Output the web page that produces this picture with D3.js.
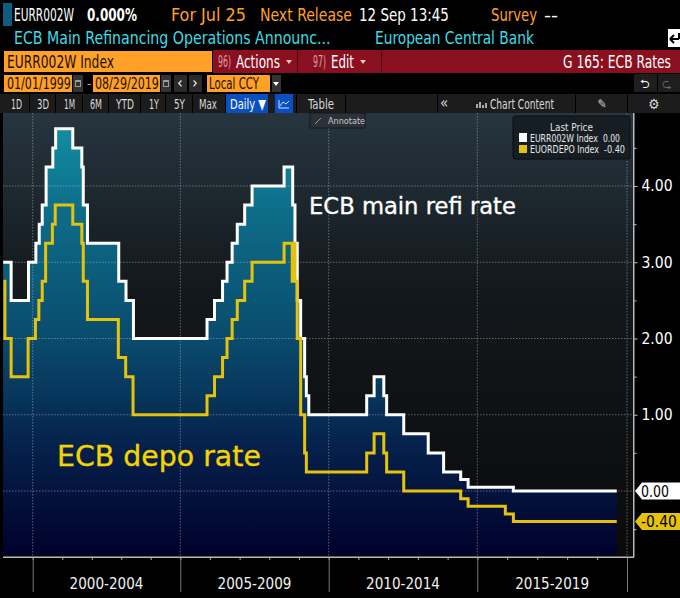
<!DOCTYPE html>
<html>
<head>
<meta charset="utf-8">
<script src="https://cdn.jsdelivr.net/npm/d3@7"></script>
<style>
  html, body { margin: 0; padding: 0; background: #000; }
  svg { display: block; }
  text { font-family: "DejaVu Sans Condensed", "DejaVu Sans", sans-serif; }
</style>
</head>
<body>
<svg id="chart" width="680" height="598"></svg>
<script>
// ECB main refinancing rate, steps
const refiDates = ['1999-01-01', '1999-04-09', '1999-11-10', '2000-02-09', '2000-03-22', '2000-04-28', '2000-06-15', '2000-09-06', '2000-10-11', '2001-05-11', '2001-08-31', '2001-09-18', '2001-11-09', '2002-12-01', '2003-03-01', '2003-06-01', '2005-11-26', '2006-02-26', '2006-06-05', '2006-07-30', '2006-10-01', '2006-12-03', '2007-03-04', '2007-06-03', '2008-07-01', '2008-10-15', '2008-11-12', '2008-12-10', '2009-01-21', '2009-03-11', '2009-04-01', '2009-05-01', '2011-04-13', '2011-07-13', '2011-11-09', '2011-12-14', '2012-07-11', '2013-05-08', '2013-11-13', '2014-06-11', '2014-09-10', '2016-03-16', '2019-08-29'];
const refiValues = [3.00, 2.50, 3.00, 3.25, 3.50, 3.75, 4.25, 4.50, 4.75, 4.50, 4.25, 3.75, 3.25, 2.75, 2.50, 2.00, 2.25, 2.50, 2.75, 3.00, 3.25, 3.50, 3.75, 4.00, 4.25, 3.75, 3.25, 2.50, 2.00, 1.50, 1.25, 1.00, 1.25, 1.50, 1.25, 1.00, 0.75, 0.50, 0.25, 0.15, 0.05, 0.00, 0.00];

// ECB deposit facility rate, steps
const depoDates = ['1999-01-04', '1999-01-22', '1999-04-09', '1999-11-05', '2000-02-04', '2000-03-17', '2000-04-28', '2000-06-09', '2000-09-01', '2000-10-06', '2001-05-11', '2001-08-31', '2001-09-18', '2001-11-09', '2002-11-26', '2003-02-25', '2003-05-27', '2005-11-26', '2006-02-26', '2006-06-05', '2006-07-30', '2006-10-01', '2006-12-03', '2007-03-04', '2007-06-03', '2008-07-01', '2008-10-09', '2008-10-15', '2008-11-12', '2008-12-10', '2009-01-21', '2009-03-11', '2009-04-01', '2011-04-13', '2011-07-13', '2011-11-09', '2011-12-14', '2012-07-11', '2014-06-11', '2014-09-10', '2015-12-09', '2016-03-16', '2019-08-29'];
const depoValues = [2.75, 2.00, 1.50, 2.00, 2.25, 2.50, 2.75, 3.25, 3.50, 3.75, 3.50, 3.25, 2.75, 2.25, 1.75, 1.50, 1.00, 1.25, 1.50, 1.75, 2.00, 2.25, 2.50, 2.75, 3.00, 3.25, 2.75, 3.25, 2.75, 2.00, 1.00, 0.50, 0.25, 0.50, 0.75, 0.50, 0.25, 0.00, -0.10, -0.20, -0.30, -0.40, -0.40];

const yGridTicks = [0, 1, 2, 3, 4];
const yMinorTicks = [-0.5, 0.5, 1.5, 2.5, 3.5, 4.5];
const periodYears = [2000, 2005, 2010, 2015, 2020];
const periodLabels = ['2000-2004', '2005-2009', '2010-2014', '2015-2019'];
const rangeTabs = ['1D', '3D', '1M', '6M', 'YTD', '1Y', '5Y', 'Max'];

const WHITE = '#ffffff';
const YELLOW = '#e5c20c';
const ORANGE = '#ffa028';
const CYAN = '#3fdbe6';
const RED = '#8a0f1f';
const INK = '#1a1000';

const svg = d3.select('#chart');
const parse = d3.utcParse('%Y-%m-%d');
const refi = refiDates.map((d, i) => ({ date: parse(d), value: refiValues[i] }));
const depo = depoDates.map((d, i) => ({ date: parse(d), value: depoValues[i] }));

const plot = { left: 3, right: 633.5, top: 113, bottom: 557 };
const yearDate = d => new Date(Date.UTC(d, 0, 1));

// the terminal spaces the axis by trading days, so the 5y bands are not quite equal
const x = d3.scaleUtc()
  .domain(periodYears.map(yearDate))
  .range([32.7, 180.3, 328.7, 477.3, 627]);
const y = d3.scaleLinear()
  .domain([0, 4])
  .range([491, 186]);

const defs = svg.append('defs');
gradient('bgFill', [[0, '#26353f'], [0.4, '#13181c'], [1, '#0a0a0a']]);
gradient('areaFill', [[0, '#128ca2'], [0.2, '#0d6c88'], [0.5, '#0a4a6c'], [0.75, '#05204a'], [1, '#00002a']], y(4.75), plot.bottom);

function gradient (id, stops, y1, y2) {
  const g = defs.append('linearGradient').attr('id', id);
  if (y1 !== undefined) {
    g.attr('gradientUnits', 'userSpaceOnUse')
      .attr('x1', 0).attr('x2', 0).attr('y1', y1).attr('y2', y2);
  } else {
    g.attr('x1', 0).attr('x2', 0).attr('y1', 0).attr('y2', 1);
  }
  stops.forEach(s => g.append('stop').attr('offset', s[0]).attr('stop-color', s[1]));
}

function label (txt, px, py, size, color, opts = {}) {
  const t = svg.append('text')
    .attr('font-size', size)
    .attr('fill', color)
    .attr('font-weight', opts.weight || 'normal')
    .attr('text-anchor', opts.anchor || 'start')
    .style('font-family', opts.family || null)
    .text(txt);
  // terminal font is narrower than anything installed, squeeze to the measured width
  const sx = opts.len ? opts.len / t.node().getComputedTextLength() : 1;
  t.attr('transform', `translate(${px},${py}) scale(${sx},1)`);
  return t;
}

function box (px, py, w, h, color) {
  return svg.append('rect').attr('x', px).attr('y', py).attr('width', w).attr('height', h).attr('fill', color);
}

function caret (px, py, color) {
  svg.append('path').attr('d', `M${px - 3} ${py - 2}H${px + 3}L${px} ${py + 2}Z`).attr('fill', color);
}

drawHeader();
drawPlot();
drawAxes();
drawLegend();

function calendar (px) {
  box(px, 75, 10, 17, '#333');
  box(px + 2, 80, 6, 7, '#999');
  box(px + 3, 82, 4, 4, '#333');
}

function drawHeader () {
  box(3, 3, 9, 23, '#0e5d80');
  label('EURR002W', 14, 21, 17.5, WHITE, { len: 60 });
  label('0.000%', 87, 21, 17.5, WHITE, { weight: 'bold', len: 50 });
  label('For Jul 25', 171, 21, 17.5, ORANGE, { len: 75 });
  label('Next Release', 260, 21, 17.5, ORANGE, { len: 92 });
  label('12 Sep 13:45', 359, 21, 17.5, WHITE, { len: 90 });
  label('Survey', 491, 21, 17.5, ORANGE, { len: 46 });
  label('--', 544, 21, 17.5, WHITE, { len: 14 });
  label('ECB Main Refinancing Operations Announc...', 14, 44, 17.5, CYAN, { len: 317 });
  label('European Central Bank', 375, 44, 17.5, CYAN, { len: 159 });
  box(668, 29, 12, 18, WHITE);
  svg.append('path').attr('d', 'M670 39H679M670 39L674 35M670 39L674 43M679 33V39')
    .attr('fill', 'none').attr('stroke', '#000').attr('stroke-width', 2);

  box(4, 51, 208, 21, ORANGE);
  box(213, 50, 467, 23, RED);
  box(297, 50, 1, 23, '#4a0810');
  box(381, 50, 1, 23, '#4a0810');
  label('EURR002W Index', 7, 68, 17, INK, { len: 107 });
  label('96)', 218, 67, 15, '#d8a0a8', { len: 13 });
  label('Actions', 236, 68, 17, WHITE, { len: 44 });
  caret(289, 62, '#e0c8c8');
  label('97)', 313, 67, 15, '#d8a0a8', { len: 13 });
  label('Edit', 331, 68, 17, WHITE, { len: 23 });
  caret(363, 62, '#e0c8c8');
  label('G 165: ECB Rates', 563, 68, 17, WHITE, { len: 108 });

  box(4, 75, 68, 17, ORANGE);
  label('01/01/1999', 7, 89, 16, INK, { len: 64 });
  calendar(73);
  label('-', 87, 88, 13, ORANGE);
  box(93, 75, 67, 17, ORANGE);
  label('08/29/2019', 95, 89, 16, INK, { len: 64 });
  calendar(161);
  box(174, 75, 13, 17, '#2a2a2a');
  label('‹', 180, 88, 15, WHITE, { anchor: 'middle' });
  box(189, 75, 13, 17, '#2a2a2a');
  label('›', 195, 88, 15, WHITE, { anchor: 'middle' });
  box(207, 75, 63, 17, ORANGE);
  label('Local CCY', 209, 89, 16, INK, { len: 50 });
  box(272, 75, 9, 17, '#333');
  caret(276, 84, WHITE);
  box(634, 74, 23, 18, '#1e1e1e');
  box(658, 74, 22, 18, '#1e1e1e');
  label('⮌', 645, 88, 12, WHITE, { anchor: 'middle' });
  label('⮎', 667, 88, 12, '#666', { anchor: 'middle' });

  box(0, 94, 680, 19, '#1c1c1c');
  const tabX = [11, 37, 64, 90, 116, 149, 174, 199];
  const tabLen = [11, 12, 11, 12, 18, 10, 11, 18];
  rangeTabs.forEach((t, i) => label(t, tabX[i], 108.5, 13.3, '#d8d8d8', { len: tabLen[i] }));
  [29, 55, 82, 108, 140, 165, 192, 225, 296, 345, 437, 575, 627].forEach(d => box(d, 94, 1, 19, '#000'));
  box(226, 94, 42, 19, '#0a4fc0');
  label('Daily ▼', 230, 108.5, 14, WHITE, { len: 36 });
  box(275, 94, 18, 19, '#0a4fc0');
  svg.append('path').attr('d', 'M279 100V108H289M280 106L283 102L286 104L289 101')
    .attr('fill', 'none').attr('stroke', '#cfe0ff').attr('stroke-width', 1);
  label('Table', 308, 108.5, 13.3, '#d8d8d8', { len: 26 });
  label('«', 444, 108, 15, '#d8d8d8', { anchor: 'middle' });
  svg.append('path').attr('d', 'M477 108V104M480 108V102M483 108V105M486 108V103')
    .attr('stroke', '#aaa').attr('stroke-width', 2);
  label('Chart Content', 490, 108.5, 13.3, '#d8d8d8', { len: 64 });
  label('✎', 602, 108, 12, '#d8d8d8', { anchor: 'middle' });
  label('⚙', 654, 109, 14, '#d8d8d8', { anchor: 'middle' });
}

function drawPlot () {
  box(plot.left, plot.top, plot.right - plot.left, plot.bottom - plot.top, 'url(#bgFill)');

  const area = d3.area()
    .x(d => x(d.date))
    .y0(plot.bottom - 1.5)
    .y1(d => y(d.value))
    .curve(d3.curveStepAfter);
  svg.append('path').datum(refi).attr('d', area).attr('fill', 'url(#areaFill)');

  // dotted grid sits on top of the area, under the lines
  const gridColor = 'rgba(190,200,210,0.45)';
  svg.append('g').selectAll('line').data(yGridTicks).join('line')
    .attr('x1', plot.left).attr('x2', plot.right)
    .attr('y1', d => y(d)).attr('y2', d => y(d))
    .attr('stroke', gridColor).attr('stroke-dasharray', '1.5 1.5');
  svg.append('g').selectAll('line').data(periodYears).join('line')
    .attr('x1', d => x(yearDate(d))).attr('x2', d => x(yearDate(d)))
    .attr('y1', plot.top).attr('y2', plot.bottom)
    .attr('stroke', gridColor).attr('stroke-dasharray', '1.5 1.5');

  const line = d3.line()
    .x(d => x(d.date))
    .y(d => y(d.value))
    .curve(d3.curveStepAfter);
  svg.append('path').datum(refi).attr('d', line)
    .attr('fill', 'none').attr('stroke', WHITE).attr('stroke-width', 3).attr('stroke-linejoin', 'miter');
  svg.append('path').datum(depo).attr('d', line)
    .attr('fill', 'none').attr('stroke', YELLOW).attr('stroke-width', 3).attr('stroke-linejoin', 'miter');

  label('ECB main refi rate', 309, 214, 23.5, WHITE, { len: 207, family: '"DejaVu Sans", sans-serif' })
    .attr('stroke', WHITE).attr('stroke-width', 0.35);
  label('ECB depo rate', 57, 466, 29, '#f5d400', { len: 204, family: '"DejaVu Sans", sans-serif' })
    .attr('stroke', '#f5d400').attr('stroke-width', 0.35);

  box(310, 113, 55, 15, '#2a3138').attr('stroke', '#14181b');
  label('Annotate', 328, 124, 9, '#c8c8c8');
  svg.append('path').attr('d', 'M315 124L321 118').attr('stroke', '#999');
}

function drawAxes () {
  // right hand value axis
  const yAxis = d3.axisRight(y)
    .tickValues(yGridTicks)
    .tickSize(4)
    .tickPadding(4)
    .tickFormat(d3.format('.2f'));
  const gy = svg.append('g')
    .attr('transform', `translate(${plot.right},0)`)
    .call(yAxis);
  gy.select('.domain').remove();
  gy.selectAll('line').attr('stroke', '#bbb');
  gy.selectAll('text')
    .attr('font-size', 15.5)
    .attr('fill', WHITE)
    .attr('font-family', '"DejaVu Sans Condensed", sans-serif');
  gy.selectAll('.tick').filter(d => d === 0).remove();

  const gyMinor = svg.append('g')
    .attr('transform', `translate(${plot.right},0)`)
    .call(d3.axisRight(y).tickValues(yMinorTicks).tickSize(3).tickFormat(''));
  gyMinor.select('.domain').remove();
  gyMinor.selectAll('line').attr('stroke', '#bbb');

  box(plot.right - 0.5, plot.top, 1.5, plot.bottom - plot.top, '#b8b8b8');

  // last value tags
  tag(0, WHITE, '#000', '0.00', 28);
  tag(-0.4, YELLOW, '#000', '-0.40', 36);

  // bottom time axis
  const gxMinor = svg.append('g')
    .attr('transform', `translate(0,${plot.bottom})`)
    .call(d3.axisBottom(x).tickValues(d3.utcYear.range(yearDate(2000), yearDate(2020))).tickSize(3).tickFormat(''));
  gxMinor.select('.domain').remove();
  gxMinor.selectAll('line').attr('stroke', '#aaa');

  const gx = svg.append('g')
    .attr('transform', `translate(0,${plot.bottom})`)
    .call(d3.axisBottom(x).tickValues(periodYears.map(yearDate)).tickSize(35).tickFormat(''));
  gx.select('.domain').remove();
  gx.selectAll('line').attr('stroke', '#777').attr('stroke-width', 1);

  box(plot.left, plot.bottom - 0.5, plot.right - plot.left + 0.5, 1.5, '#b8b8b8');

  periodLabels.forEach((d, i) => {
    const mid = (x(yearDate(periodYears[i])) + x(yearDate(periodYears[i + 1]))) / 2;
    label(d, mid, 589, 15, '#f0f0f0', { anchor: 'middle', len: 74 });
  });
}

function tag (value, fill, color, txt, len) {
  const py = y(value);
  svg.append('path')
    .attr('d', d3.line()([[635, py], [642, py - 8.5], [680, py - 8.5], [680, py + 8.5], [642, py + 8.5]]) + 'Z')
    .attr('fill', fill);
  label(txt, 641, py + 5.5, 15.5, color, { len });
}

function drawLegend () {
  box(513, 116, 117, 43, '#161e24').attr('rx', 2).attr('stroke', '#0a0d10');
  label('Last Price', 550, 131, 10.5, '#e0e0e0', { len: 43 });
  box(519, 133, 8, 9, WHITE);
  label('EURR002W Index', 530, 142, 10.5, '#e8e8e8', { len: 68 });
  label('0.00', 603, 142, 10.5, '#e8e8e8', { len: 17 });
  box(519, 145, 8, 8, YELLOW);
  label('EUORDEPO Index', 530, 153, 10.5, '#e8e8e8', { len: 69 });
  label('-0.40', 604, 153, 10.5, '#e8e8e8', { len: 21 });
}
</script>
</body>
</html>
